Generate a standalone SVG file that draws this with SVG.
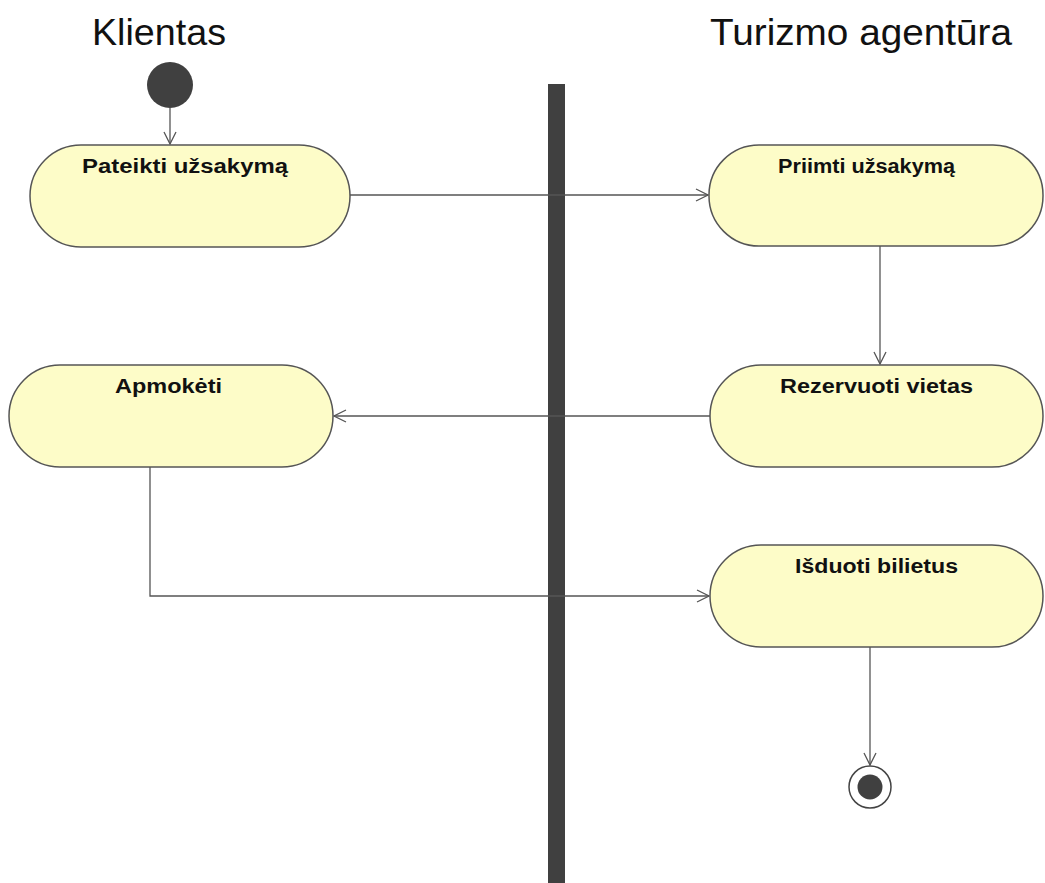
<svg xmlns="http://www.w3.org/2000/svg" width="1045" height="883" viewBox="0 0 1045 883">
<style>
.title{font-family:"Liberation Sans",Arial,sans-serif;font-size:37px;fill:#111}
.act{fill:#fdfcc8;stroke:#555;stroke-width:1.5}
.lbl{font-family:"Liberation Sans",Arial,sans-serif;font-size:20px;font-weight:bold;fill:#111}
.edge{fill:none;stroke:#555;stroke-width:1.3}
</style>
<defs>
<marker id="arr" viewBox="0 0 14 14" refX="13" refY="7" markerWidth="14" markerHeight="14" markerUnits="userSpaceOnUse" orient="auto">
<path d="M1,1 L13,7 L1,13" fill="none" stroke="#555" stroke-width="1.3"/>
</marker>
</defs>
<rect width="1045" height="883" fill="#fff"/>
<g id="lane-titles">
<text class="title" x="92" y="45" textLength="134" lengthAdjust="spacingAndGlyphs">Klientas</text>
<text class="title" x="710" y="45" textLength="302" lengthAdjust="spacingAndGlyphs">Turizmo agentūra</text>
</g>
<g id="lane-separator">
<rect x="548" y="84" width="17" height="799" fill="#404040"/>
</g>
<g id="connectors">
<path class="edge" d="M170,108 V144" marker-end="url(#arr)"/>
<path class="edge" d="M350,195 H708" marker-end="url(#arr)"/>
<path class="edge" d="M880,246 V364" marker-end="url(#arr)"/>
<path class="edge" d="M710,416 H334" marker-end="url(#arr)"/>
<path class="edge" d="M150,467 V596 H709" marker-end="url(#arr)"/>
<path class="edge" d="M870,647 V765" marker-end="url(#arr)"/>
</g>
<g id="start">
<circle cx="170" cy="85" r="23" fill="#404040"/>
</g>
<g id="pateikti">
<rect class="act" x="30" y="145" width="320" height="102" rx="51" ry="51"/>
<text class="lbl" x="82" y="173" textLength="206" lengthAdjust="spacingAndGlyphs">Pateikti užsakymą</text>
</g>
<g id="priimti">
<rect class="act" x="709" y="145" width="334" height="101" rx="50" ry="50"/>
<text class="lbl" x="778" y="173" textLength="177" lengthAdjust="spacingAndGlyphs">Priimti užsakymą</text>
</g>
<g id="apmoketi">
<rect class="act" x="9" y="365" width="324" height="102" rx="51" ry="51"/>
<text class="lbl" x="115" y="393" textLength="107" lengthAdjust="spacingAndGlyphs">Apmokėti</text>
</g>
<g id="rezervuoti">
<rect class="act" x="710" y="365" width="333" height="102" rx="51" ry="51"/>
<text class="lbl" x="780" y="393" textLength="193" lengthAdjust="spacingAndGlyphs">Rezervuoti vietas</text>
</g>
<g id="isduoti">
<rect class="act" x="710" y="545" width="333" height="102" rx="51" ry="51"/>
<text class="lbl" x="795" y="573" textLength="163" lengthAdjust="spacingAndGlyphs">Išduoti bilietus</text>
</g>
<g id="end">
<circle cx="870" cy="787" r="21" fill="#fff" stroke="#444" stroke-width="1.5"/>
<circle cx="870" cy="787" r="12.5" fill="#404040"/>
</g>
</svg>
